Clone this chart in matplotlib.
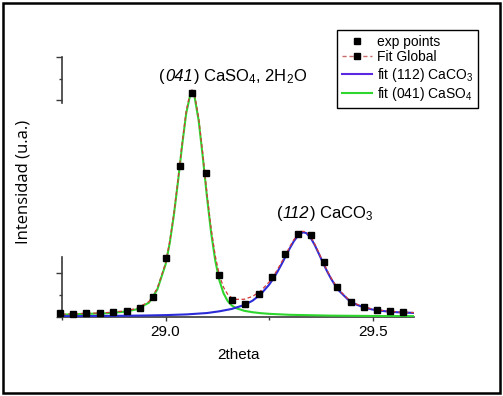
import matplotlib
matplotlib.use("Agg")
import matplotlib.pyplot as plt
from matplotlib.lines import Line2D
from matplotlib.patches import Rectangle
from matplotlib.offsetbox import TextArea, HPacker, AnnotationBbox
import matplotlib.transforms as mtransforms

plt.rcParams['font.family'] = ['Liberation Sans', 'DejaVu Sans']
plt.rcParams['mathtext.fontset'] = 'custom'
plt.rcParams['mathtext.rm'] = 'Liberation Sans'
plt.rcParams['mathtext.it'] = 'Liberation Sans:italic'
plt.rcParams['mathtext.bf'] = 'Liberation Sans:bold'

# ---- data (2theta, intensity in arbitrary counts) ----
exp_x = [28.745, 28.777, 28.809, 28.841, 28.873, 28.906, 28.938, 28.970, 29.001,
         29.035, 29.065, 29.097, 29.129, 29.161, 29.193, 29.225, 29.256, 29.288,
         29.320, 29.351, 29.383, 29.415, 29.447, 29.479, 29.511, 29.543, 29.574]
exp_y = [74, 69, 81, 86, 95, 127, 208, 458, 1359,
         3480, 5174, 3325, 959, 375, 289, 513, 906, 1445,
         1900, 1891, 1267, 675, 342, 213, 150, 127, 111]

caso4_x = [28.75, 28.80, 28.85, 28.90, 28.93, 28.96, 28.98, 29.00, 29.01, 29.02,
           29.03, 29.04, 29.05, 29.06, 29.064, 29.07, 29.08, 29.09, 29.10, 29.11,
           29.12, 29.13, 29.14, 29.15, 29.16, 29.17, 29.19, 29.21, 29.23, 29.25,
           29.30, 29.40, 29.50, 29.60]
caso4_y = [42, 60, 70, 110, 165, 320, 620, 1201, 1690, 2334,
           3112, 3951, 4702, 5142, 5185, 5085, 4531, 3683, 2768, 1945,
           1296, 836, 538, 358, 254, 194, 132, 99, 77, 62,
           39, 20, 12, 8]

caco3_x = [28.75, 28.80, 28.85, 28.90, 28.95, 29.00, 29.05, 29.10, 29.13, 29.16,
           29.19, 29.21, 29.23, 29.25, 29.26, 29.27, 29.28, 29.29, 29.30, 29.31,
           29.32, 29.33, 29.334, 29.34, 29.35, 29.36, 29.37, 29.38, 29.39, 29.40,
           29.41, 29.42, 29.44, 29.46, 29.48, 29.50, 29.53, 29.56, 29.60]
caco3_y = [8, 10, 13, 17, 23, 32, 48, 80, 120, 175,
           265, 365, 516, 733, 872, 1030, 1205, 1390, 1575, 1743,
           1871, 1940, 1945, 1927, 1827, 1658, 1456, 1246, 1047, 868,
           715, 586, 398, 279, 207, 160, 122, 98, 82]

glob_x = [28.75, 28.80, 28.85, 28.90, 28.93, 28.96, 28.98, 29.00, 29.01, 29.02,
          29.03, 29.04, 29.05, 29.06, 29.064, 29.07, 29.08, 29.09, 29.10, 29.11,
          29.12, 29.13, 29.14, 29.15, 29.16, 29.17, 29.19, 29.21, 29.23, 29.25,
          29.26, 29.27, 29.28, 29.29, 29.30, 29.31, 29.32, 29.33, 29.34, 29.35,
          29.36, 29.37, 29.38, 29.39, 29.40, 29.41, 29.42, 29.44, 29.46, 29.48,
          29.50, 29.53, 29.56, 29.60]
glob_y = [50, 70, 83, 127, 185, 344, 648, 1233, 1725, 2372,
          3153, 3995, 4750, 5195, 5240, 5144, 4596, 3755, 2848, 2040,
          1405, 958, 676, 514, 430, 396, 398, 464, 593, 795,
          928, 1081, 1251, 1432, 1614, 1779, 1904, 1971, 1956, 1854,
          1683, 1480, 1268, 1068, 888, 734, 604, 414, 293, 220,
          172, 132, 107, 90]

x_ticks = [29.0, 29.5]
x_tick_labels = ["29.0", "29.5"]
x_minor = [28.75, 29.25]
y_major = [0, 1000, 5000, 6000]
y_minor = [500, 5500]

# peak labels: (prefix, italic Miller index, remainder)
lab_caso4 = ["(", "041", r") CaSO$_4$, 2H$_2$O"]
lab_caco3 = ["(", "112", r") CaCO$_3$"]

# ---- figure ----
W, H = 503, 396
fig = plt.figure(figsize=(W / 100, H / 100), dpi=100)
ax = fig.add_axes([62 / W, 1 - 316.5 / H, (414 - 62) / W, (316.5 - 57) / H])

green = '#2ed62e'
blue = '#2b2bd8'
blue_leg = '#5a28e0'
red = '#d23a3a'

ax.plot(caso4_x, caso4_y, color=green, lw=1.5, zorder=2)
ax.plot(caco3_x, caco3_y, color=blue, lw=1.5, zorder=2)
ax.plot(glob_x, glob_y, color=red, lw=0.9, dashes=(3, 2), zorder=3)
ax.plot(exp_x, exp_y, linestyle='none', marker='s', ms=4.3, color='black',
        zorder=4, clip_on=False)

ax.set_xlim(28.75, 29.6)
ax.set_ylim(0, 6000)

for s in ['top', 'right', 'left']:
    ax.spines[s].set_visible(False)
axis_col = '#3a3a3a'
ax.spines['bottom'].set_color(axis_col)
ax.spines['bottom'].set_linewidth(1.2)
ax.spines['bottom'].set_zorder(1)

# broken left axis: two segments
trans = mtransforms.blended_transform_factory(ax.transAxes, ax.transData)
ax.plot([0, 0], [0, 1380], color=axis_col, lw=1.2, transform=trans, clip_on=False)
ax.plot([0, 0], [4940, 6000], color=axis_col, lw=1.2, transform=trans, clip_on=False)

ax.set_xticks(x_ticks)
ax.set_xticklabels(x_tick_labels, fontsize=11)
ax.set_xticks(x_minor, minor=True)
ax.set_yticks(y_major)
ax.set_yticklabels([])
ax.set_yticks(y_minor, minor=True)
ax.tick_params(axis='x', which='major', direction='out', length=3, width=1, color=axis_col, pad=3)
ax.tick_params(axis='x', which='minor', direction='out', length=2.5, width=1, color=axis_col)
ax.tick_params(axis='y', which='major', direction='out', length=4, width=1, color=axis_col)
ax.tick_params(axis='y', which='minor', direction='out', length=2.2, width=1, color=axis_col)


def peak_label(parts, xy):
    boxes = [TextArea(parts[0], textprops=dict(fontsize=12)),
             TextArea(parts[1], textprops=dict(fontsize=12, style='italic')),
             TextArea(parts[2], textprops=dict(fontsize=12))]
    pack = HPacker(children=boxes, align='baseline', pad=0, sep=0)
    ab = AnnotationBbox(pack, xy, xycoords='data', frameon=False,
                        box_alignment=(0.5, 0.5), pad=0)
    ax.add_artist(ab)


peak_label(lab_caso4, (29.163, 5560))
peak_label(lab_caco3, (29.385, 2390))

fig.text(238 / W, 1 - 355 / H, "2theta", fontsize=11, ha='center', va='center')
fig.text(24 / W, 1 - 182 / H, "Intensidad (u.a.)", fontsize=12, ha='center', va='center',
         rotation=90, family=['Open Sans', 'DejaVu Sans'])

handles = [
    Line2D([], [], linestyle='none', marker='s', ms=3.8, color='black'),
    Line2D([], [], color='#c86a6a', lw=1.0, dashes=(3, 2), marker='s', ms=3.8,
           markerfacecolor='black', markeredgecolor='black'),
    Line2D([], [], color=blue_leg, lw=1.5),
    Line2D([], [], color=green, lw=1.5),
]
labels = ["exp points", "Fit Global", r"fit (112) CaCO$_3$", r"fit (041) CaSO$_4$"]
leg = fig.legend(handles, labels, loc='upper left', bbox_to_anchor=(337 / W, 1 - 30 / H),
                 borderaxespad=0, fontsize=10, frameon=True, fancybox=False,
                 edgecolor='black', framealpha=1, handlelength=2.2, handletextpad=0.3,
                 labelspacing=0.1, borderpad=0.35, numpoints=1)
leg.get_frame().set_linewidth(1.0)

fig.patches.append(Rectangle((3 / W, 3 / H), (500 - 3) / W, (393 - 3) / H,
                             transform=fig.transFigure, fill=False,
                             edgecolor='black', lw=1.8))

fig.savefig("out.png", dpi=100)
